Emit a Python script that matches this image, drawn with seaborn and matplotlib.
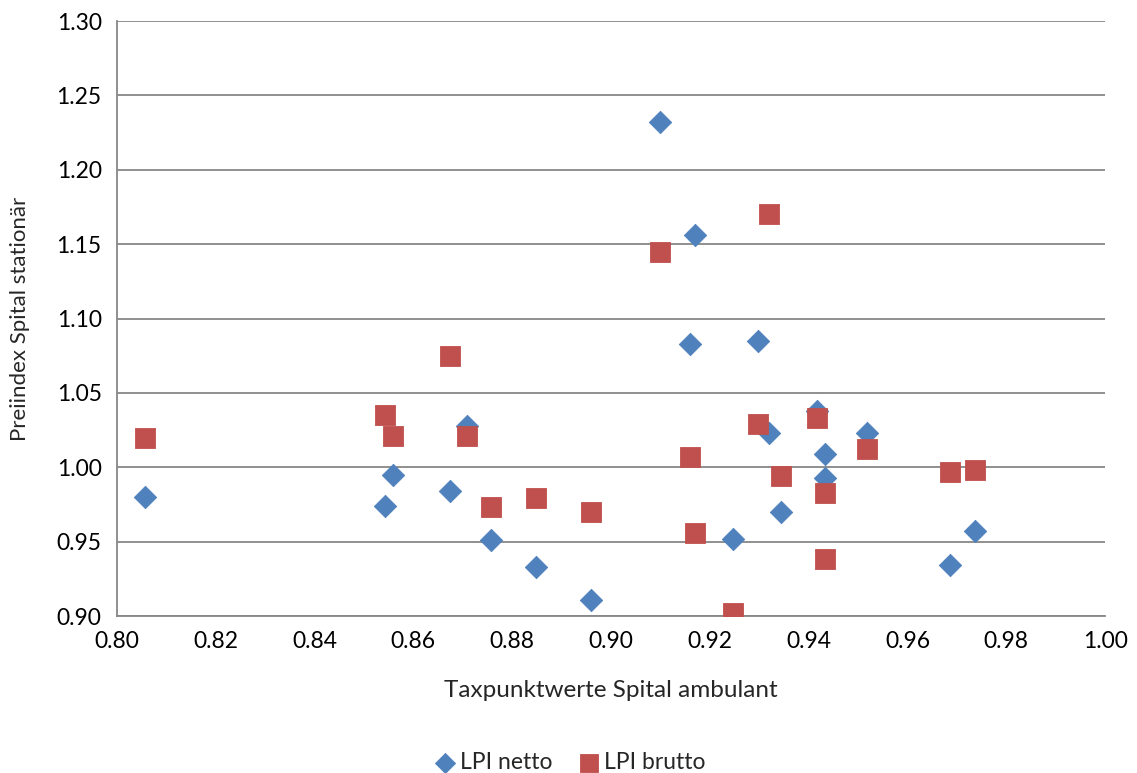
import matplotlib
matplotlib.use("Agg")
import matplotlib.pyplot as plt
import seaborn as sns
import pandas as pd

x_vals = [0.8057, 0.8543, 0.8559, 0.8674, 0.8709, 0.8757, 0.8848, 0.8960, 0.9099,
          0.9170, 0.9160, 0.9247, 0.9298, 0.9320, 0.9344, 0.9417, 0.9433, 0.9433,
          0.9518, 0.9686, 0.9737]
netto = [0.980, 0.974, 0.995, 0.984, 1.028, 0.951, 0.933, 0.911, 1.232,
         1.156, 1.083, 0.952, 1.085, 1.023, 0.970, 1.038, 1.009, 0.993,
         1.023, 0.934, 0.957]
brutto_x = [0.8057, 0.8543, 0.8559, 0.8674, 0.8709, 0.8757, 0.8848, 0.8960, 0.9099,
            0.9160, 0.9170, 0.9247, 0.9298, 0.9320, 0.9344, 0.9417, 0.9433, 0.9433,
            0.9518, 0.9686, 0.9737]
brutto = [1.020, 1.035, 1.021, 1.075, 1.021, 0.973, 0.979, 0.970, 1.145,
          1.007, 0.956, 0.902, 1.029, 1.170, 0.994, 1.033, 0.983, 0.938,
          1.012, 0.997, 0.998]
series_names = ["LPI netto", "LPI brutto"]

df = pd.concat([
    pd.DataFrame({"x": x_vals, "y": netto, "Serie": series_names[0]}),
    pd.DataFrame({"x": brutto_x, "y": brutto, "Serie": series_names[1]}),
])

sns.set_style("white")
plt.rcParams['font.family'] = ['Lato', 'DejaVu Sans']

fig = plt.figure(figsize=(11.37, 7.73), dpi=100)
ax = fig.add_axes([0.1029, 0.2031, 0.869, 0.7697])

palette = {"LPI netto": "#4F81BD", "LPI brutto": "#C0504D"}
markers = {"LPI netto": "D", "LPI brutto": "s"}
sizes = {"LPI netto": 130, "LPI brutto": 220}
for name in series_names:
    sub = df[df["Serie"] == name]
    sns.scatterplot(data=sub, x="x", y="y", ax=ax, color=palette[name],
                    marker=markers[name], s=sizes[name], linewidth=0.6,
                    edgecolor=palette[name], label=name, zorder=3)

ax.set_xlim(0.80, 1.00)
ax.set_ylim(0.90, 1.30)
xt = [0.80 + 0.02 * i for i in range(11)]
yt = [0.90 + 0.05 * i for i in range(9)]
ax.set_xticks(xt)
ax.set_xticklabels([f"{v:.2f}" for v in xt])
ax.set_yticks(yt)
ax.set_yticklabels([f"{v:.2f}" for v in yt])
ax.yaxis.grid(True, color="#878787", linewidth=1.3)
ax.xaxis.grid(False)
ax.set_axisbelow(True)
for s in ["top", "right"]:
    ax.spines[s].set_visible(False)
for s in ["left", "bottom"]:
    ax.spines[s].set_color("#878787")
    ax.spines[s].set_linewidth(1.3)
ax.tick_params(axis="both", which="both", direction="out", length=6, width=1.3,
               color="#878787", labelsize=16.5, labelcolor="black", pad=5)
ax.set_xlabel("Taxpunktwerte Spital ambulant", fontsize=17.5, labelpad=20)
ax.set_ylabel("Preiindex Spital stationär", fontsize=16)
ax.yaxis.set_label_coords(-0.088, 0.5)

handles, labels = ax.get_legend_handles_labels()
ax.get_legend().remove()
fig.legend(handles, labels, loc="center", bbox_to_anchor=(0.5, 0.013), ncol=2,
           frameon=False, fontsize=16.5, handletextpad=0.05, columnspacing=1.0,
           markerscale=0.9, handlelength=1.2)

fig.savefig("out.png", dpi=100)
